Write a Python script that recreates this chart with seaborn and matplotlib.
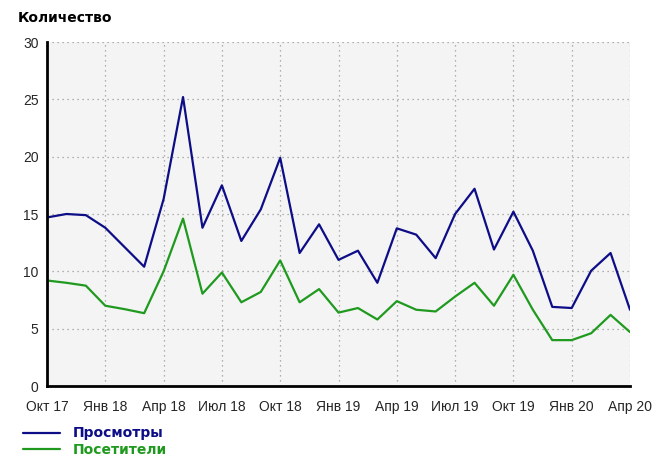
import matplotlib
matplotlib.use("Agg")
import matplotlib.pyplot as plt
import seaborn as sns
import pandas as pd
import numpy as np

months = ["Окт 17", "Ноя 17", "Дек 17", "Янв 18", "Фев 18", "Мар 18", "Апр 18", "Май 18",
          "Июн 18", "Июл 18", "Авг 18", "Сен 18", "Окт 18", "Ноя 18", "Дек 18", "Янв 19",
          "Фев 19", "Мар 19", "Апр 19", "Май 19", "Июн 19", "Июл 19", "Авг 19", "Сен 19",
          "Окт 19", "Ноя 19", "Дек 19", "Янв 20", "Фев 20", "Мар 20", "Апр 20"]
views = [14.7, 15.0, 14.9, 13.8, 12.1, 10.4, 16.3, 25.2, 13.8, 17.5, 12.65, 15.4, 19.9, 11.6,
         14.1, 11.0, 11.8, 9.0, 13.75, 13.2, 11.15, 15.0, 17.2, 11.9, 15.2, 11.8, 6.9, 6.8,
         10.05, 11.6, 6.65]
visitors = [9.2, 9.0, 8.75, 7.0, 6.7, 6.35, 10.0, 14.6, 8.05, 9.9, 7.3, 8.2, 10.95, 7.3,
            8.45, 6.4, 6.8, 5.8, 7.4, 6.65, 6.5, 7.8, 9.0, 7.0, 9.7, 6.65, 4.0, 4.0, 4.6, 6.2, 4.7]
series_names = ["Просмотры", "Посетители"]
tick_labels = ["Окт 17", "Янв 18", "Апр 18", "Июл 18", "Окт 18", "Янв 19", "Апр 19",
               "Июл 19", "Окт 19", "Янв 20", "Апр 20"]
y_ticks = [0, 5, 10, 15, 20, 25, 30]
title = "Количество"

colors = {"Просмотры": "#0d0d87", "Посетители": "#1f9a1f"}

idx = np.arange(len(months))
df = pd.concat([
    pd.DataFrame({"m": idx, "v": views, "s": series_names[0]}),
    pd.DataFrame({"m": idx, "v": visitors, "s": series_names[1]}),
])

sns.set_style("white")
plt.rcParams["font.family"] = ["Liberation Sans", "DejaVu Sans"]

fig = plt.figure(figsize=(6.56, 4.59), dpi=100)
ax = fig.add_axes([47/656, 1-386/459, (630-47)/656, (386-42)/459])
ax.set_facecolor("#f4f4f4")

sns.lineplot(data=df, x="m", y="v", hue="s", palette=colors, linewidth=1.6,
             ax=ax, legend=False, sort=False)

ax.set_xlim(0, len(months)-1)
ax.set_ylim(0, 30)
tick_pos = [months.index(t) for t in tick_labels]
ax.set_xticks(tick_pos)
ax.set_xticklabels(tick_labels, fontsize=10)
ax.set_yticks(y_ticks)
ax.set_yticklabels([str(t) for t in y_ticks], fontsize=10)
ax.tick_params(axis="x", direction="out", length=4, width=1, color="black", pad=6)
ax.tick_params(axis="y", direction="out", length=4, width=1, color="black", pad=2)
ax.grid(True, linestyle=(0, (1, 3)), color="#999999", linewidth=0.9)
ax.set_axisbelow(True)
for s in ["top", "right"]:
    ax.spines[s].set_visible(False)
for s in ["left", "bottom"]:
    ax.spines[s].set_linewidth(2)
    ax.spines[s].set_color("black")
ax.set_xlabel("")
ax.set_ylabel("")

fig.text(18/656, 1-18/459, title, fontsize=10, fontweight="bold",
         family="DejaVu Sans", va="center", ha="left", color="black")

from matplotlib.lines import Line2D
handles = [Line2D([0], [0], color=colors[n], lw=1.6) for n in series_names]
leg = fig.legend(handles, series_names, loc="upper left",
                 bbox_to_anchor=(10/656, 1-414/459), frameon=False,
                 handlelength=2.7, handletextpad=0.9, labelspacing=0.2,
                 prop={"family": "DejaVu Sans", "weight": "bold", "size": 10})
for t, n in zip(leg.get_texts(), series_names):
    t.set_color(colors[n])

fig.savefig("out.png", dpi=100)
